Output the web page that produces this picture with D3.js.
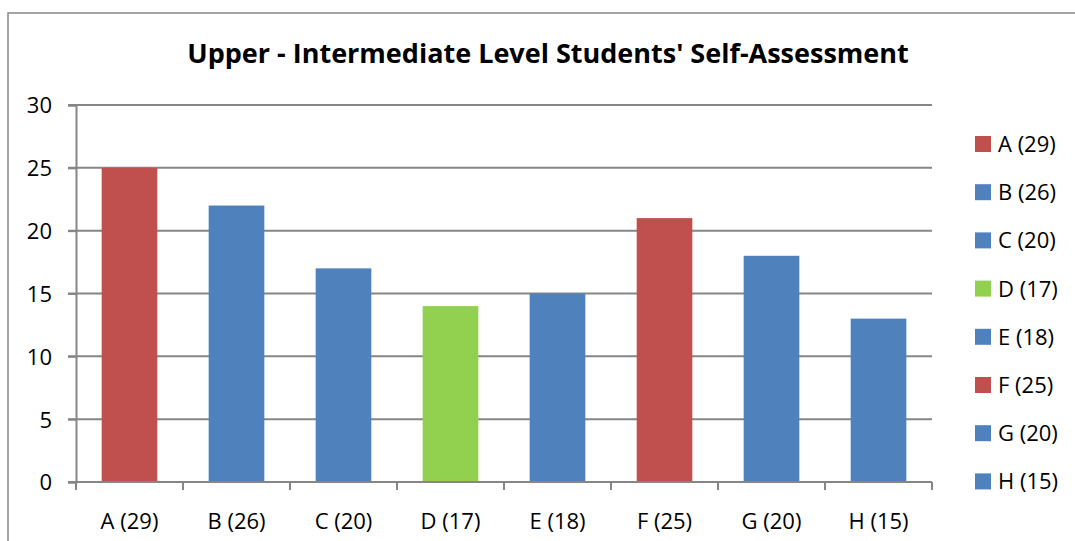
<!DOCTYPE html>
<html>
<head>
<meta charset="utf-8">
<script src="https://cdn.jsdelivr.net/npm/d3@7"></script>
<style>
  body { margin: 0; background: #fff; }
  text { font-family: "Open Sans", Lato, sans-serif; fill: #000; }
</style>
</head>
<body>
<div id="chart"></div>
<script>
// values
var categories = ['A (29)', 'B (26)', 'C (20)', 'D (17)', 'E (18)', 'F (25)', 'G (20)', 'H (15)'];
var values = [25, 22, 17, 14, 15, 21, 18, 13];
var barColors = ['#C0504D', '#4F81BD', '#4F81BD', '#92D050', '#4F81BD', '#C0504D', '#4F81BD', '#4F81BD'];
var yTicks = [0, 5, 10, 15, 20, 25, 30];
var chartTitle = "Upper - Intermediate Level Students' Self-Assessment";

var width = 1075, height = 541;
var margin = {top: 105, right: 143, bottom: 59, left: 76};
var plotW = width - margin.left - margin.right,
    plotH = height - margin.top - margin.bottom;

var svg = d3.select('#chart').append('svg')
    .attr('width', width)
    .attr('height', height);

// outer frame, only top and left edges are in view
svg.append('rect')
    .attr('x', 8).attr('y', 13)
    .attr('width', 1100).attr('height', 600)
    .style('fill', 'none')
    .style('stroke', '#868686')
    .style('stroke-width', 1.5);

svg.append('text')
    .attr('x', 548).attr('y', 63)
    .style('text-anchor', 'middle')
    .style('font-weight', 'bold')
    .style('font-size', '27px')
    .text(chartTitle);

var g = svg.append('g')
    .attr('transform', 'translate(' + margin.left + ',' + margin.top + ')');

var x = d3.scaleBand()
    .domain(categories)
    .range([0, plotW])
    .paddingInner(0.48)
    .paddingOuter(0.24);

var y = d3.scaleLinear()
    .domain([0, 30])
    .range([plotH, 0]);

// gridlines
g.append('g')
    .selectAll('line')
    .data(yTicks)
    .enter().append('line')
    .attr('x1', -8).attr('x2', plotW)
    .attr('y1', function(d) { return y(d); })
    .attr('y2', function(d) { return y(d); })
    .style('stroke', '#868686')
    .style('stroke-width', 2);

// bars
g.selectAll('.bar')
    .data(values)
    .enter().append('rect')
    .attr('class', 'bar')
    .attr('x', function(d, i) { return x(categories[i]); })
    .attr('width', x.bandwidth())
    .attr('y', function(d) { return y(d); })
    .attr('height', function(d) { return plotH - y(d); })
    .style('fill', function(d, i) { return barColors[i]; });

// y axis
var yAxis = d3.axisLeft(y).tickValues(yTicks).tickSize(8).tickPadding(16);
var yg = g.append('g').call(yAxis);
yg.select('.domain').style('stroke', '#868686').style('stroke-width', 2);
yg.selectAll('.tick line').style('stroke', '#868686').style('stroke-width', 2);
yg.selectAll('text').style('font-size', '22px').attr('dy', '0.36em');

// x axis, ticks sit between categories
var xEdge = d3.scaleLinear().domain([0, categories.length]).range([0, plotW]);
var xg = g.append('g').attr('transform', 'translate(0,' + plotH + ')');
xg.append('line')
    .attr('x1', 0).attr('x2', plotW)
    .style('stroke', '#868686').style('stroke-width', 2);
xg.selectAll('.xt')
    .data(d3.range(categories.length + 1))
    .enter().append('line')
    .attr('x1', function(d) { return xEdge(d); })
    .attr('x2', function(d) { return xEdge(d); })
    .attr('y1', 0).attr('y2', 8)
    .style('stroke', '#868686').style('stroke-width', 2);
xg.selectAll('.xl')
    .data(categories)
    .enter().append('text')
    .attr('x', function(d) { return x(d) + x.bandwidth() / 2; })
    .attr('y', 47)
    .style('text-anchor', 'middle')
    .style('font-size', '22px')
    .text(function(d) { return d; });

// legend
var legend = svg.append('g').attr('transform', 'translate(975, 144)');
var item = legend.selectAll('.item')
    .data(categories)
    .enter().append('g')
    .attr('transform', function(d, i) { return 'translate(0,' + (i * 48.2) + ')'; });
item.append('rect')
    .attr('x', 0).attr('y', -8)
    .attr('width', 16).attr('height', 16)
    .style('fill', function(d, i) { return barColors[i]; });
item.append('text')
    .attr('x', 23).attr('y', 0)
    .attr('dy', '0.36em')
    .style('font-size', '22px')
    .text(function(d) { return d; });
</script>
</body>
</html>
